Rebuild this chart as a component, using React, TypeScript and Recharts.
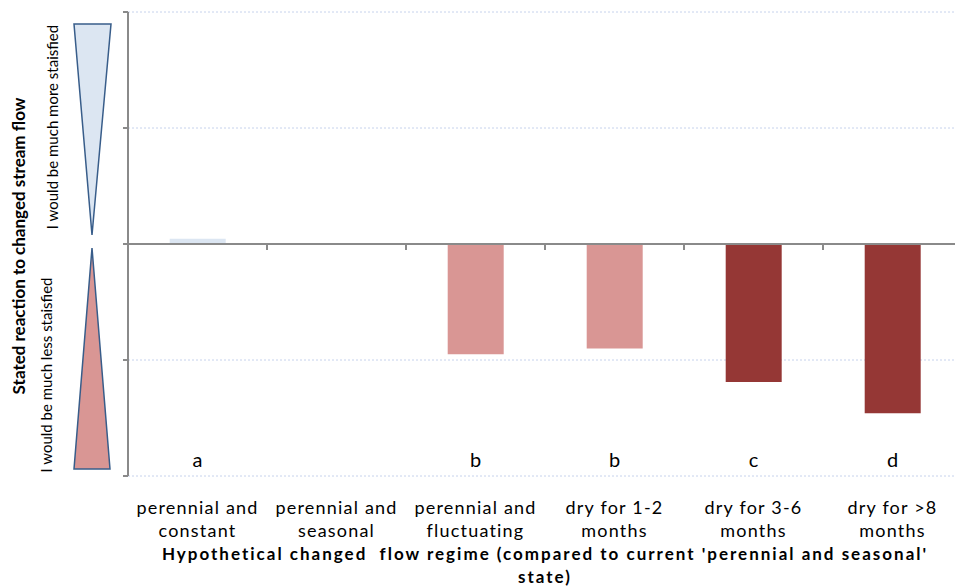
import React from "react";
import {
  BarChart,
  Bar,
  Cell,
  XAxis,
  YAxis,
  CartesianGrid,
  ReferenceLine,
} from "recharts";

// Flow regimes shown on the category axis (two lines each)
const regimes = [
  "perennial and constant",
  "perennial and seasonal",
  "perennial and fluctuating",
  "dry for 1-2 months",
  "dry for 3-6 months",
  "dry for >8 months",
];
const regimeLines = [
  ["perennial and", "constant"],
  ["perennial and", "seasonal"],
  ["perennial and", "fluctuating"],
  ["dry for 1-2", "months"],
  ["dry for 3-6", "months"],
  ["dry for >8", "months"],
];
// Mean stated reaction (positive = more satisfied, negative = less satisfied)
const reaction = [0.045, 0, -0.95, -0.9, -1.19, -1.46];
// Significance groups
const groups = ["a", "", "b", "b", "c", "d"];
const barColors = ["#dce6f2", "#dce6f2", "#d99694", "#d99694", "#953735", "#953735"];
const yTicks = [-2, -1, 0, 1, 2];

const data = regimes.map((r, i) => ({
  regime: r,
  value: reaction[i],
  group: groups[i],
}));

const FONT = "Lato, 'Open Sans', sans-serif";
const AXIS_GRAY = "#8a8a8a";

function RegimeTick(props: any) {
  const { x, y, index } = props;
  const lines = regimeLines[index] || [];
  return (
    <g>
      <text
        x={x}
        y={y - 9}
        textAnchor="middle"
        fontFamily={FONT}
        fontSize={20}
        fill="#000"
      >
        {groups[index]}
      </text>
      {lines.map((l, k) => (
        <text
          key={k}
          x={x}
          y={y + 38 + k * 23}
          textAnchor="middle"
          fontFamily={FONT}
          fontSize={18}
          letterSpacing={1.2}
          fill="#000"
        >
          {l}
        </text>
      ))}
    </g>
  );
}

function XTitle(props: any) {
  const vb = props.viewBox || {};
  const cx = vb.x + vb.width / 2;
  return (
    <g>
      <text
        x={cx}
        y={vb.y + 84}
        textAnchor="middle"
        fontFamily={FONT}
        fontWeight="bold"
        fontSize={17}
        letterSpacing={2}
        style={{ whiteSpace: "pre" }}
        fill="#000"
      >
        Hypothetical changed  flow regime (compared to current 'perennial and seasonal'
      </text>
      <text
        x={cx}
        y={vb.y + 107}
        textAnchor="middle"
        fontFamily={FONT}
        fontWeight="bold"
        fontSize={17}
        letterSpacing={2}
        fill="#000"
      >
        state)
      </text>
    </g>
  );
}

function ZeroAxis(props: any) {
  const { x1, x2, y1 } = props;
  const n = regimes.length;
  const step = (x2 - x1) / n;
  const ticks = [];
  for (let i = 1; i < n; i++) {
    const tx = x1 + i * step;
    ticks.push(
      <line key={i} x1={tx} x2={tx} y1={y1} y2={y1 + 6} stroke={AXIS_GRAY} strokeWidth={2} />
    );
  }
  return (
    <g>
      <line x1={x1 - 5} x2={x2} y1={y1} y2={y1} stroke={AXIS_GRAY} strokeWidth={2} />
      {ticks}
    </g>
  );
}

function ReactionScale() {
  return (
    <svg
      width={122}
      height={587}
      style={{ position: "absolute", left: 0, top: 0 }}
    >
      <polygon points="74,24 111,24 92,235" fill="#dce6f2" stroke="#385d8a" strokeWidth={1.5} />
      <polygon points="92,248 74,469 110,469" fill="#d99694" stroke="#385d8a" strokeWidth={1.5} />
      <text
        transform="translate(18,246) rotate(-90)"
        textAnchor="middle"
        dominantBaseline="central"
        fontFamily={FONT}
        fontWeight="bold"
        fontSize={17}
        fill="#000"
      >
        Stated reaction to changed stream flow
      </text>
      <text
        transform="translate(52,127) rotate(-90)"
        textAnchor="middle"
        dominantBaseline="central"
        fontFamily={FONT}
        fontSize={15}
        fill="#000"
      >
        I would be much more staisfied
      </text>
      <text
        transform="translate(46,375) rotate(-90)"
        textAnchor="middle"
        dominantBaseline="central"
        fontFamily={FONT}
        fontSize={15}
        fill="#000"
      >
        I would be much less staisfied
      </text>
    </svg>
  );
}

export default function App() {
  return (
    <div
      style={{
        position: "absolute",
        left: 0,
        top: 0,
        width: 955,
        height: 587,
        overflow: "hidden",
        background: "#fff",
      }}
    >
      <BarChart
        width={962}
        height={587}
        data={data}
        margin={{ top: 12, right: 0, left: 108, bottom: 0 }}
        barCategoryGap="30%"
      >
        <CartesianGrid
          horizontal
          vertical={false}
          stroke="#c6d2ec"
          strokeDasharray="2 2"
        />
        <XAxis
          dataKey="regime"
          height={111}
          axisLine={false}
          tickLine={false}
          tickSize={0}
          tickMargin={0}
          interval={0}
          tick={<RegimeTick />}
          label={<XTitle />}
        />
        <YAxis
          width={20}
          domain={[-2, 2]}
          ticks={yTicks}
          tick={() => <g />}
          tickSize={5}
          axisLine={{ stroke: AXIS_GRAY, strokeWidth: 2 }}
          tickLine={{ stroke: AXIS_GRAY, strokeWidth: 2 }}
        />
        <Bar dataKey="value" isAnimationActive={false}>
          {data.map((d, i) => (
            <Cell key={i} fill={barColors[i]} />
          ))}
        </Bar>
        <ReferenceLine y={0} shape={<ZeroAxis />} />
      </BarChart>
      <ReactionScale />
    </div>
  );
}
